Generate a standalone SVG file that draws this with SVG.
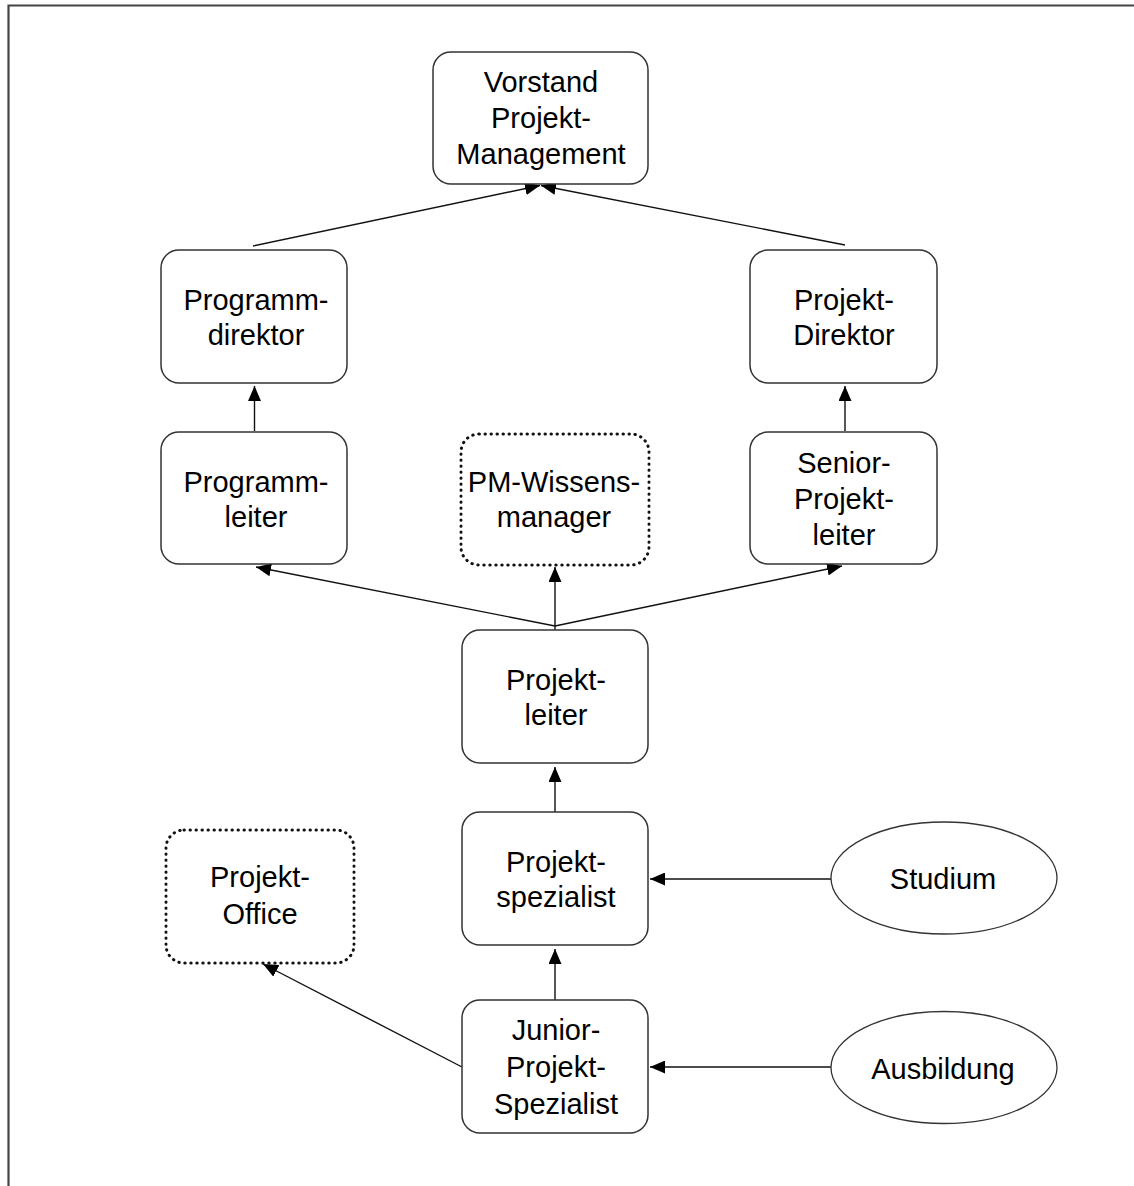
<svg xmlns="http://www.w3.org/2000/svg" width="1134" height="1186" viewBox="0 0 1134 1186">
<defs>
<marker id="ah" viewBox="0 0 15 13" refX="15" refY="6.5" markerWidth="15" markerHeight="13" markerUnits="userSpaceOnUse" orient="auto">
<path d="M0,0 L15,6.5 L0,13 z" fill="#000"/>
</marker>
</defs>
<style>
.box{fill:#fff;stroke:#333;stroke-width:1.5}
.dot{fill:#fff;stroke:#111;stroke-width:3;stroke-linecap:round;stroke-dasharray:0.4 5.6}
.ell{fill:#fff;stroke:#333;stroke-width:1.3}
.lbl{font-family:"Liberation Sans",Arial,sans-serif;font-size:29px;fill:#000;text-anchor:middle}
.con{stroke:#111;stroke-width:1.4;fill:none;marker-end:url(#ah)}
.frame{stroke:#444;stroke-width:2.2;fill:none}
</style>
<rect width="1134" height="1186" fill="#fff"/>
<path class="frame" d="M8.5,1186 V5.5 H1134"/>
<g id="connectors">
<line class="con" x1="253" y1="246" x2="540" y2="185.5"/>
<line class="con" x1="845" y1="245" x2="541" y2="185.5"/>
<line class="con" x1="254.5" y1="431" x2="254.5" y2="386"/>
<line class="con" x1="845" y1="431" x2="845" y2="386"/>
<line class="con" x1="555" y1="626" x2="256" y2="567"/>
<line class="con" x1="555" y1="630" x2="555" y2="567"/>
<line class="con" x1="555" y1="626" x2="842" y2="566"/>
<line class="con" x1="555" y1="812" x2="555" y2="767"/>
<line class="con" x1="555" y1="1000" x2="555" y2="949"/>
<line class="con" x1="831" y1="879" x2="650" y2="879"/>
<line class="con" x1="831" y1="1067" x2="650" y2="1067"/>
<line class="con" x1="462" y1="1067" x2="263" y2="964"/>
</g>
<g id="vorstand">
<rect class="box" x="433" y="52" width="215" height="132" rx="18"/>
<text class="lbl" x="541" y="92">Vorstand</text>
<text class="lbl" x="541" y="128">Projekt-</text>
<text class="lbl" x="541" y="164">Management</text>
</g>
<g id="programmdirektor">
<rect class="box" x="161" y="250" width="186" height="133" rx="18"/>
<text class="lbl" x="256" y="310">Programm-</text>
<text class="lbl" x="256" y="345">direktor</text>
</g>
<g id="projektdirektor">
<rect class="box" x="750" y="250" width="187" height="133" rx="18"/>
<text class="lbl" x="844" y="310">Projekt-</text>
<text class="lbl" x="844" y="345">Direktor</text>
</g>
<g id="programmleiter">
<rect class="box" x="161" y="432" width="186" height="132" rx="18"/>
<text class="lbl" x="256" y="492">Programm-</text>
<text class="lbl" x="256" y="527">leiter</text>
</g>
<g id="pmwissensmanager">
<rect class="dot" x="461" y="434" width="188" height="131" rx="18"/>
<text class="lbl" x="554" y="492">PM-Wissens-</text>
<text class="lbl" x="554" y="527">manager</text>
</g>
<g id="seniorprojektleiter">
<rect class="box" x="750" y="432" width="187" height="132" rx="18"/>
<text class="lbl" x="844" y="473">Senior-</text>
<text class="lbl" x="844" y="509">Projekt-</text>
<text class="lbl" x="844" y="545">leiter</text>
</g>
<g id="projektleiter">
<rect class="box" x="462" y="630" width="186" height="133" rx="18"/>
<text class="lbl" x="556" y="690">Projekt-</text>
<text class="lbl" x="556" y="725">leiter</text>
</g>
<g id="projektspezialist">
<rect class="box" x="462" y="812" width="186" height="133" rx="18"/>
<text class="lbl" x="556" y="872">Projekt-</text>
<text class="lbl" x="556" y="907">spezialist</text>
</g>
<g id="juniorprojektspezialist">
<rect class="box" x="462" y="1000" width="186" height="133" rx="18"/>
<text class="lbl" x="556" y="1040">Junior-</text>
<text class="lbl" x="556" y="1077">Projekt-</text>
<text class="lbl" x="556" y="1114">Spezialist</text>
</g>
<g id="projektoffice">
<rect class="dot" x="166" y="830" width="188" height="133" rx="18"/>
<text class="lbl" x="260" y="887">Projekt-</text>
<text class="lbl" x="260" y="924">Office</text>
</g>
<g id="studium">
<ellipse class="ell" cx="944" cy="878" rx="113" ry="56"/>
<text class="lbl" x="943" y="889">Studium</text>
</g>
<g id="ausbildung">
<ellipse class="ell" cx="944" cy="1067.5" rx="113" ry="56"/>
<text class="lbl" x="943" y="1079">Ausbildung</text>
</g>
</svg>
